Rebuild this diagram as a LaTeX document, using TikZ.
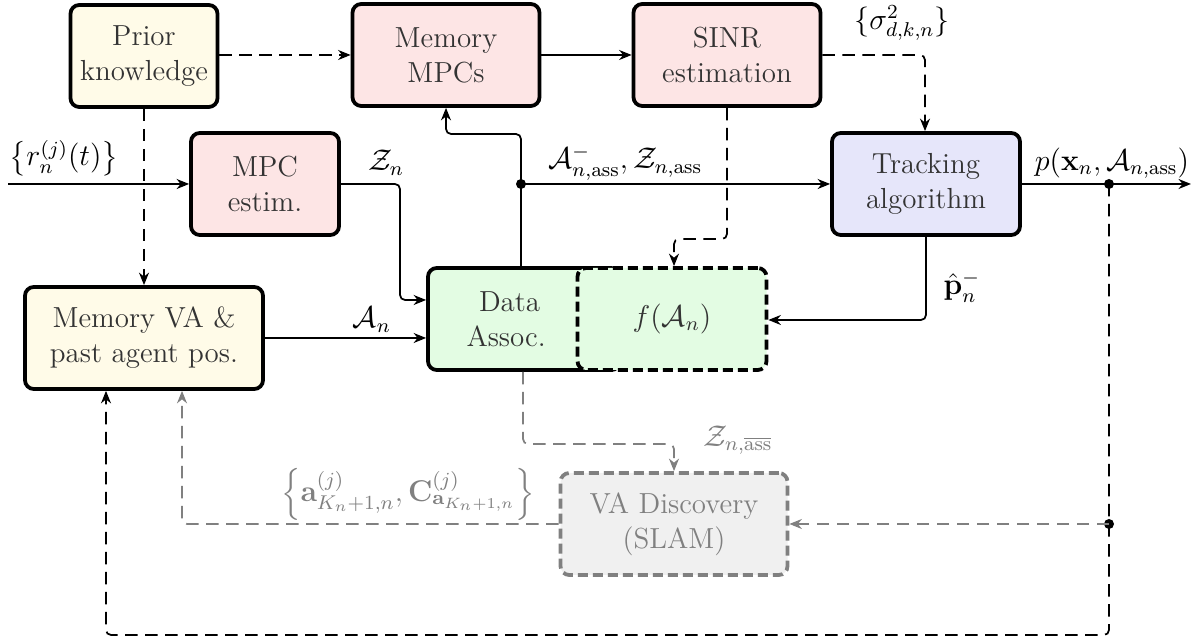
\documentclass[tikz,border=0pt]{standalone}
\usepackage{amsmath,amssymb}
\usetikzlibrary{arrows.meta}
\definecolor{cyel}{HTML}{FFFBE8}
\definecolor{cred}{HTML}{FDE5E5}
\definecolor{cblue}{HTML}{E6E6FA}
\definecolor{cgreen}{HTML}{E3FCE3}
\definecolor{cgray}{HTML}{F0F0F0}
\definecolor{ggray}{HTML}{808080}
\tikzset{
  blk/.style={draw=black, line width=1.5pt, rounded corners=3.5pt, text=black!80,
    minimum height=40.8pt, align=center, inner sep=2pt},
  conn/.style={line width=0.7pt, rounded corners=2pt, -{Stealth[length=5pt,width=4pt]}},
  dsh/.style={dash pattern=on 5pt off 3pt},
  dot/.style={circle, fill=black, inner sep=0pt, minimum size=4pt},
}
\begin{document}
\begin{tikzpicture}[x=0.4pt,y=-0.4pt, every node/.append style={font=\fontsize{11.6}{14}\selectfont}]
\useasboundingbox (0,0) rectangle (1194,644);
% nodes
\node[blk, fill=cyel, minimum width=58.8pt] (prior) at (144,56) {Prior\\knowledge};
\node[blk, fill=cred, minimum width=74.8pt] (mem) at (446,55) {Memory\\MPCs};
\node[blk, fill=cred, minimum width=74.8pt] (sinr) at (727,55) {SINR\\estimation};
\node[blk, fill=cred, minimum width=59.2pt] (mpc) at (265,184) {MPC\\estim.};
\node[blk, fill=cblue, minimum width=75.2pt] (track) at (926,184) {Tracking\\algorithm};
\node[blk, fill=cyel, minimum width=95.2pt] (memva) at (144,338) {Memory VA \&\\past agent pos.};
\node[blk, fill=cgreen, minimum width=76.8pt, text width=62pt, align=left] (data) at (524,319) {\hspace*{13pt}Data\\\hspace*{8pt}Assoc.};
\node[blk, fill=cgreen, minimum width=75.6pt, dash pattern=on 4pt off 2pt] (fbox) at (672,319) {$f(\mathcal{A}_n)$};
\node[blk, fill=cgray, draw=ggray, text=ggray, minimum width=90.8pt, dash pattern=on 4pt off 2pt] (vad) at (674,524) {VA Discovery\\(SLAM)};
% coordinates
\coordinate (in) at (8,184);
\coordinate (j1) at (521,184);
\coordinate (j2) at (1109,184);
\coordinate (j3) at (1109,524);
\coordinate (out) at (1191,184);
\node[dot] (d1) at (j1) {};
\node[dot] (d2) at (j2) {};
\node[dot] (d3) at (j3) {};
% connectors
\draw[conn] (in) -- (mpc.west);
\draw[conn, dsh] (prior.east |- mem.west) -- (mem.west);
\draw[conn] (mem.east) -- (sinr.west);
\draw[conn, dsh] (prior.south) -- (memva.north);
\draw[conn] (mpc.east) -- (400,184) -- (400,300) -- (data.west |- 0,300);
\draw[conn] (memva.east) -- (data.west |- memva.east);
\draw[conn] (data.north -| j1) -- (521,134) -- (446,134) -- (mem.south);
\draw[conn] (j1) -- (track.west);
\draw[conn] (track.east) -- (out);
\draw[conn, dsh] (sinr.east) -- (925,55) -- (track.north -| 925,0);
\draw[conn, dsh] (sinr.south) -- (727,239) -- (674,239) -- (fbox.north -| 674,0);
\draw[conn] (track.south) -- (926,320) -- (fbox.east |- 0,320);
\draw[conn, dsh] (j2) -- (j3) -- (1109,635) -- (106,635) -- (memva.south -| 106,0);
\draw[conn, dsh, ggray] (j3) -- (vad.east);
\draw[conn, dsh, ggray] (vad.west) -- (182,524) -- (memva.south -| 182,0);
\draw[conn, dsh, ggray] (data.south -| 523,0) -- (523,444) -- (674,444) -- (vad.north);
% labels
\node (lr) at (64,158) {$\left\{r_n^{(j)}(t)\right\}$};
\node (lz) at (386,163) {$\mathcal{Z}_n$};
\node[anchor=west, inner sep=0pt] (la) at (548,163) {$\mathcal{A}_{n,\mathrm{ass}}^-, \mathcal{Z}_{n,\mathrm{ass}}$};
\node (ls) at (902,23) {$\{\sigma_{d,k,n}^2\}$};
\node (lp) at (1112,163) {$p(\mathbf{x}_n,\mathcal{A}_{n,\mathrm{ass}})$};
\node (lph) at (962,287) {$\hat{\mathbf{p}}_n^-$};
\node (lan) at (372,320) {$\mathcal{A}_n$};
\node[text=ggray] (lzb) at (738,440) {$\mathcal{Z}_{n,\overline{\mathrm{ass}}}$};
\node[text=ggray] (lac) at (408,494) {$\left\{\mathbf{a}_{K_n+1,n}^{(j)}, \mathbf{C}_{\mathbf{a}_{K_n+1,n}}^{(j)}\right\}$};
\end{tikzpicture}
\end{document}
